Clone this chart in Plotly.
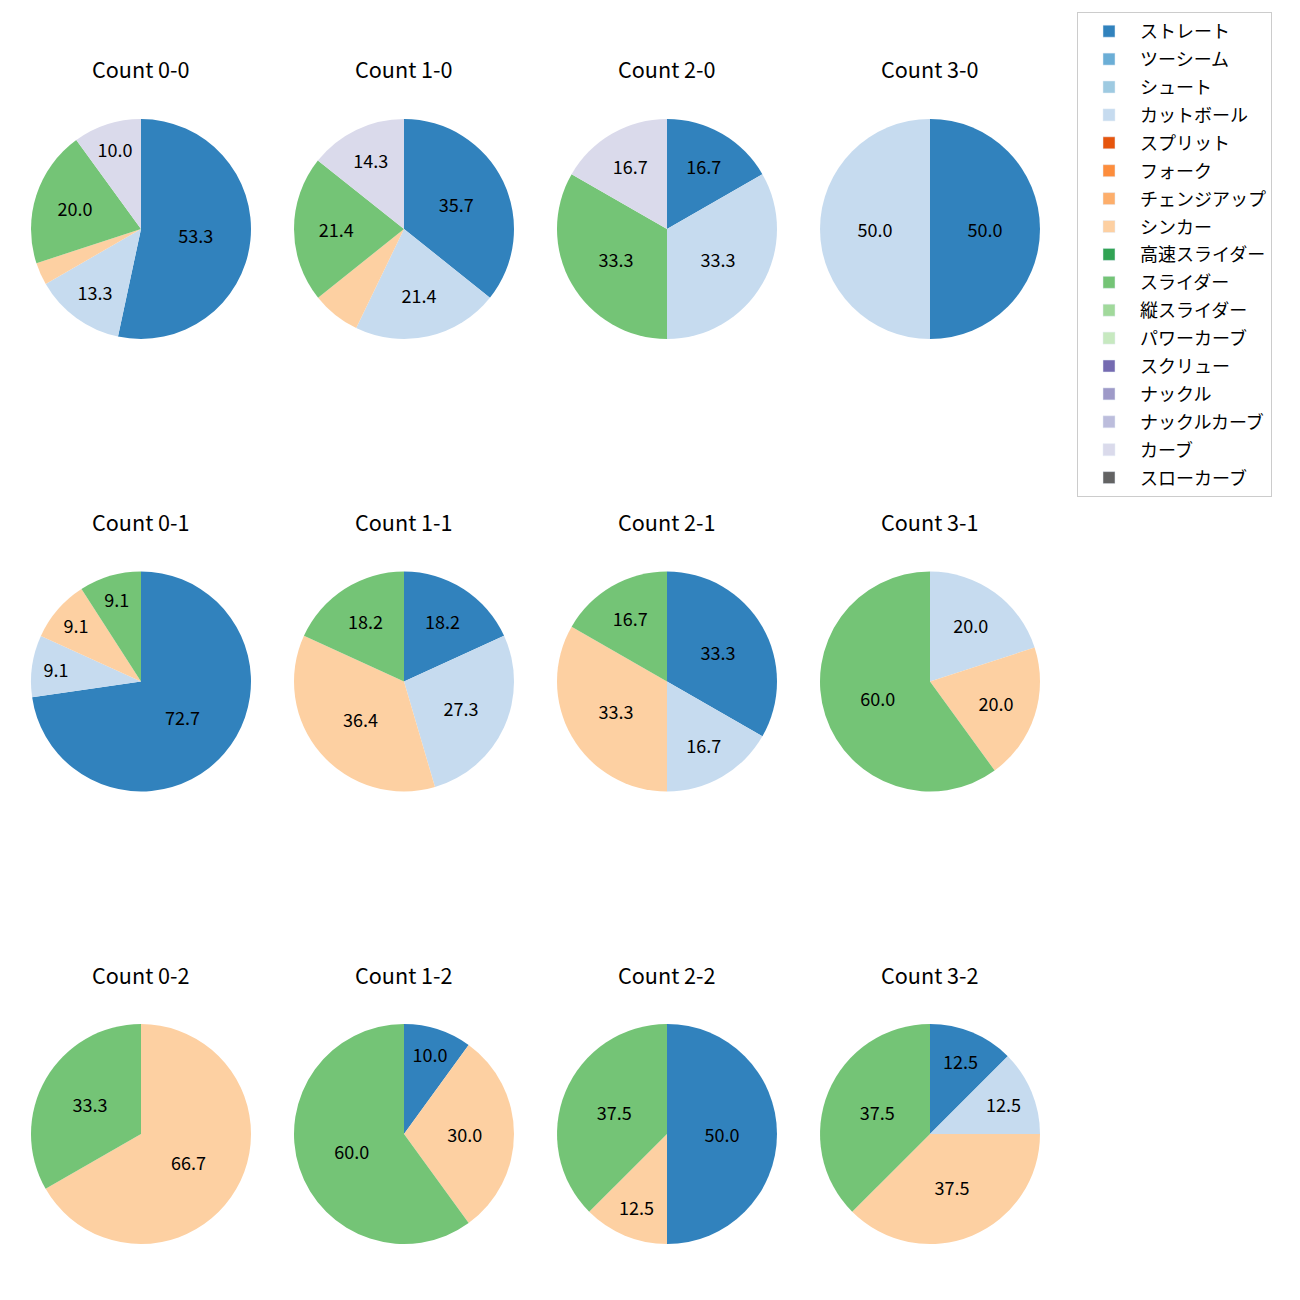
import plotly.graph_objects as go

W, H = 1292, 1292   # page body adds an 8px margin
OFF = 8

pitch_types = ["ストレート", "ツーシーム", "シュート", "カットボール", "スプリット", "フォーク",
               "チェンジアップ", "シンカー", "高速スライダー", "スライダー", "縦スライダー",
               "パワーカーブ", "スクリュー", "ナックル", "ナックルカーブ", "カーブ", "スローカーブ"]
pitch_colors = ["#3182bd", "#6baed6", "#9ecae1", "#c6dbef", "#e6550d", "#fd8d3c",
                "#fdae6b", "#fdd0a2", "#31a354", "#74c476", "#a1d99b", "#c7e9c0",
                "#756bb1", "#9e9ac8", "#bcbddc", "#dadaeb", "#636363"]

# per-count pitch mix (percent)
count_titles = ["Count 0-0", "Count 1-0", "Count 2-0", "Count 3-0",
                "Count 0-1", "Count 1-1", "Count 2-1", "Count 3-1",
                "Count 0-2", "Count 1-2", "Count 2-2", "Count 3-2"]
c00_labels = ["ストレート", "カットボール", "シンカー", "スライダー", "カーブ"]
c00_values = [53.3, 13.3, 3.3, 20.0, 10.0]
c10_labels = ["ストレート", "カットボール", "シンカー", "スライダー", "カーブ"]
c10_values = [35.7, 21.4, 7.1, 21.4, 14.3]
c20_labels = ["ストレート", "カットボール", "スライダー", "カーブ"]
c20_values = [16.7, 33.3, 33.3, 16.7]
c30_labels = ["ストレート", "カットボール"]
c30_values = [50.0, 50.0]
c01_labels = ["ストレート", "カットボール", "シンカー", "スライダー"]
c01_values = [72.7, 9.1, 9.1, 9.1]
c11_labels = ["ストレート", "カットボール", "シンカー", "スライダー"]
c11_values = [18.2, 27.3, 36.4, 18.2]
c21_labels = ["ストレート", "カットボール", "シンカー", "スライダー"]
c21_values = [33.3, 16.7, 33.3, 16.7]
c31_labels = ["カットボール", "シンカー", "スライダー"]
c31_values = [20.0, 20.0, 60.0]
c02_labels = ["シンカー", "スライダー"]
c02_values = [66.7, 33.3]
c12_labels = ["ストレート", "シンカー", "スライダー"]
c12_values = [10.0, 30.0, 60.0]
c22_labels = ["ストレート", "シンカー", "スライダー"]
c22_values = [50.0, 12.5, 37.5]
c32_labels = ["ストレート", "カットボール", "シンカー", "スライダー"]
c32_values = [12.5, 12.5, 37.5, 37.5]

all_labels = [c00_labels, c10_labels, c20_labels, c30_labels,
              c01_labels, c11_labels, c21_labels, c31_labels,
              c02_labels, c12_labels, c22_labels, c32_labels]
all_values = [c00_values, c10_values, c20_values, c30_values,
              c01_values, c11_values, c21_values, c31_values,
              c02_values, c12_values, c22_values, c32_values]

color_map = dict(zip(pitch_types, pitch_colors))
FONT = "Noto Sans CJK JP"

col_cx = [141 - OFF, 404 - OFF, 667 - OFF, 930 - OFF]
row_cy = [229 - OFF, 681.5 - OFF, 1134 - OFF]
R = 110

fig = go.Figure()
annotations = []
for i, (title, labs, vals) in enumerate(zip(count_titles, all_labels, all_values)):
    cx = col_cx[i % 4]
    cy = row_cy[i // 4]
    txt = [f"{v:.1f}" if v >= 8 else "" for v in vals]
    fig.add_trace(go.Pie(
        labels=labs, values=vals, text=txt, textinfo="text",
        textposition="inside", insidetextorientation="horizontal",
        textfont=dict(size=18, color="black", family=FONT),
        marker=dict(colors=[color_map[l] for l in labs], line=dict(width=0)),
        sort=False, direction="clockwise", rotation=0,
        showlegend=False, hoverinfo="label+percent",
        domain=dict(x=[(cx - R) / W, (cx + R) / W],
                    y=[1 - (cy + R) / H, 1 - (cy - R) / H]),
    ))
    annotations.append(dict(text=title, x=cx / W, y=1 - (cy - 160) / H,
                            xref="paper", yref="paper", showarrow=False,
                            xanchor="center", yanchor="middle",
                            font=dict(size=21.6, color="black", family=FONT)))

for name, col in zip(pitch_types, pitch_colors):
    fig.add_trace(go.Bar(x=[None], y=[None], name=name, marker_color=col,
                         legendgroup=name, showlegend=True))

fig.update_layout(
    width=W, height=H,
    margin=dict(l=0, r=0, t=0, b=0),
    paper_bgcolor="white", plot_bgcolor="white",
    annotations=annotations,
    xaxis=dict(visible=False), yaxis=dict(visible=False),
    legend=dict(x=(1077 - OFF) / W, y=1 - (12 - OFF) / H, xanchor="left", yanchor="top",
                bordercolor="#cccccc", borderwidth=1, bgcolor="white",
                font=dict(size=18, color="black", family=FONT),
                tracegroupgap=1.5, traceorder="grouped", itemwidth=52),
    font=dict(family=FONT),
)

fig.write_html("out.html")
